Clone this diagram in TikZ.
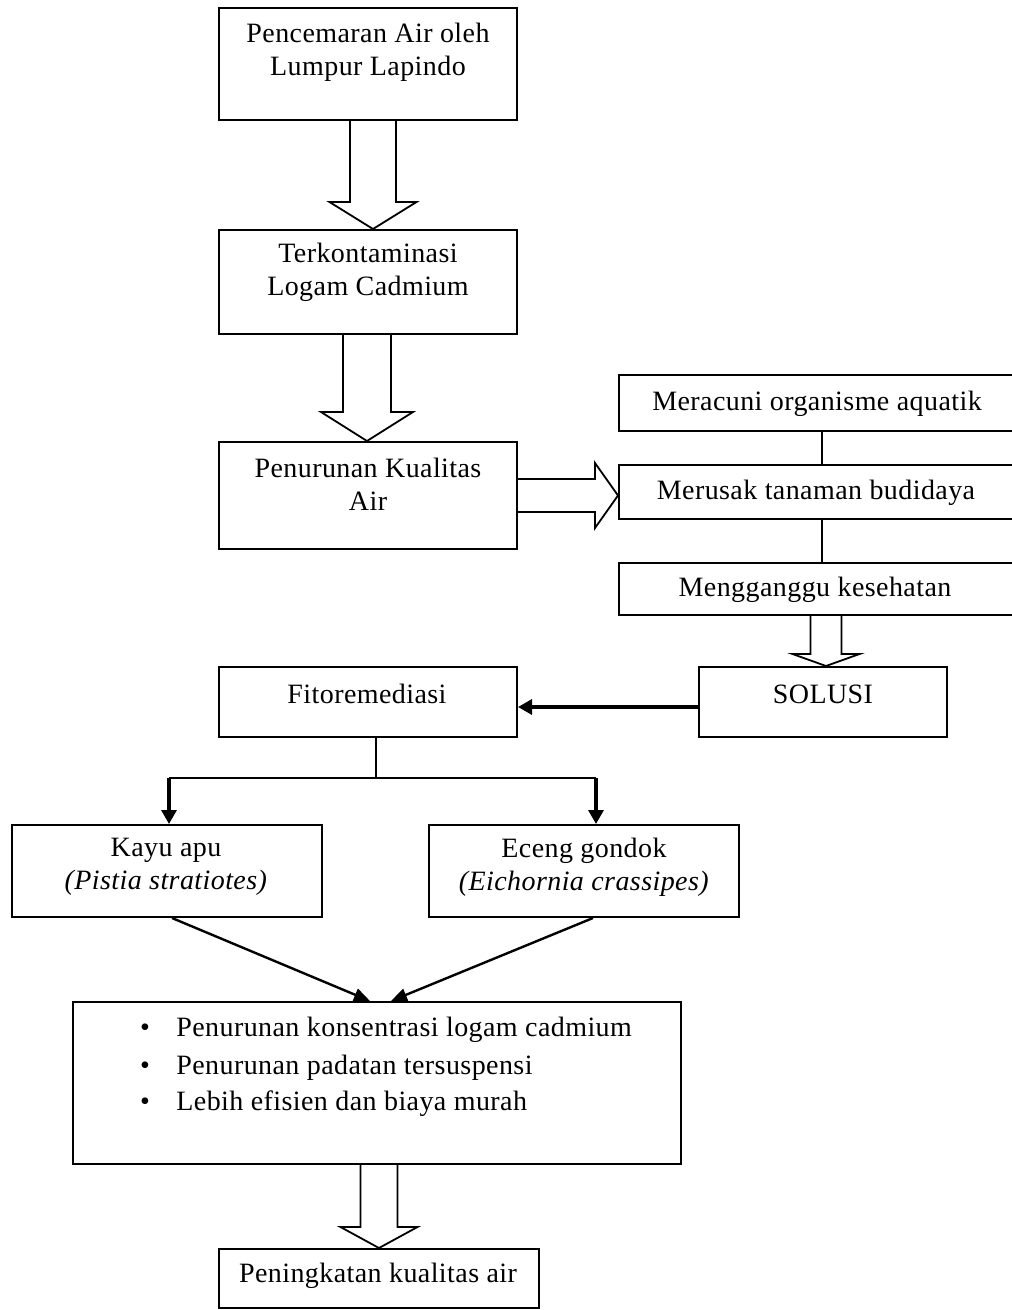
\documentclass[tikz,border=0pt]{standalone}
\usepackage{fontspec}
\setmainfont[LetterSpace=1.5]{Liberation Serif}
\usetikzlibrary{calc,arrows.meta,fit}
\newcommand{\hdown}[5]{\draw[hollow] ($(#1)+(-#3,0)$) -- ($(#2)+(-#3,-#5)$) -- ($(#2)+(-#4,-#5)$) -- (#2) -- ($(#2)+(#4,-#5)$) -- ($(#2)+(#3,-#5)$) -- ($(#1)+(#3,0)$);}
\newcommand{\hright}[5]{\draw[hollow] ($(#1)+(0,-#3)$) -- ($(#2)+(-#5,-#3)$) -- ($(#2)+(-#5,-#4)$) -- (#2) -- ($(#2)+(-#5,#4)$) -- ($(#2)+(-#5,#3)$) -- ($(#1)+(0,#3)$);}
\begin{document}
\begin{tikzpicture}[x=0.5pt,y=-0.5pt,
  box/.style={draw, line width=1pt, inner sep=0pt},
  txt/.style={inner sep=0pt, align=center, font=\fontsize{14}{16.5}\selectfont},
  btxt/.style={inner sep=0pt, anchor=west, font=\fontsize{14}{16.5}\selectfont},
  hollow/.style={line width=0.9pt, line join=miter},
  thinline/.style={line width=1pt},
  thickarrow/.style={line width=1.6pt, -{Triangle[length=7pt,width=7.5pt]}},
  diagarrow/.style={line width=1.2pt, -{Triangle[length=8pt,width=6.5pt]}}]
\useasboundingbox (0,0) rectangle (1011,1310);
% boxes
\node[box, fit={(219,8) (517,120)}] (A) {};
\node[box, fit={(219,230) (517,334)}] (B) {};
\node[box, fit={(219,442) (517,549)}] (C) {};
\node[box, fit={(619,375) (1016,431)}] (D1) {};
\node[box, fit={(619,465) (1016,519)}] (D2) {};
\node[box, fit={(619,563) (1016,615)}] (D3) {};
\node[box, fit={(699,667) (947,737)}] (SOL) {};
\node[box, fit={(219,667) (517,737)}] (FIT) {};
\node[box, fit={(12,825) (322,917)}] (KAY) {};
\node[box, fit={(429,825) (739,917)}] (ECE) {};
\node[box, fit={(73,1002) (681,1164)}] (BUL) {};
\node[box, fit={(219,1249) (539,1308)}] (FIN) {};
% texts
\node[txt] (tA) at (368,52) {Pencemaran Air oleh\\Lumpur Lapindo};
\node[txt] (tB) at (368,272) {Terkontaminasi\\Logam Cadmium};
\node[txt] (tC) at (368,484) {Penurunan Kualitas\\Air};
\node[txt] (tD1) at (817,404) {Meracuni organisme aquatik};
\node[txt] (tD2) at (816,493) {Merusak tanaman budidaya};
\node[txt] (tD3) at (815,590) {Mengganggu kesehatan};
\node[txt] (tSOL) at (823,694) {SOLUSI};
\node[txt] (tFIT) at (367,694) {Fitoremediasi};
\node[txt] (tKAY) at (166,867) {Kayu apu\\\textit{(Pistia stratiotes)}};
\node[txt] (tECE) at (584,867) {Eceng gondok\\\textit{(Eichornia crassipes)}};
\node[txt] (b1) at (145,1030) {•};
\node[txt] (b2) at (145,1068) {•};
\node[txt] (b3) at (145,1104) {•};
\node[btxt] (l1) at (176,1030) {Penurunan konsentrasi logam cadmium};
\node[btxt] (l2) at (176,1068) {Penurunan padatan tersuspensi};
\node[btxt] (l3) at (176,1104) {Lebih efisien dan biaya murah};
\node[txt] (tFIN) at (378,1276) {Peningkatan kualitas air};
% hollow arrows
\coordinate (a1t) at ($(A.south)+(5,0)$);
\coordinate (a1b) at (a1t |- B.north);
\hdown{a1t}{a1b}{23}{43.5}{27}
\coordinate (a2t) at ($(B.south)+(-1,0)$);
\coordinate (a2b) at (a2t |- C.north);
\hdown{a2t}{a2b}{24}{46}{29}
\coordinate (a3t) at ($(D3.south)+(8.5,0)$);
\coordinate (a3b) at (a3t |- SOL.north);
\hdown{a3t}{a3b}{15.5}{33.5}{12}
\coordinate (a4t) at ($(BUL.south)+(2,0)$);
\coordinate (a4b) at (a4t |- FIN.north);
\hdown{a4t}{a4b}{18.5}{38.5}{21}
\coordinate (arb) at (D2.west |- C.east);
\hright{C.east}{arb}{16.5}{32.5}{23}
% D links
\coordinate (dl) at ($(D1.south)+(4.5,0)$);
\draw[thinline] (dl) -- (dl |- D2.north);
\coordinate (dl2) at ($(D2.south)+(4.5,0)$);
\draw[thinline] (dl2) -- (dl2 |- D3.north);
% solusi to fito
\coordinate (ss) at ($(SOL.west)+(0,5)$);
\draw[thickarrow] (ss) -- (ss -| FIT.east);
% branch
\coordinate (fb) at ($(FIT.south)+(8,0)$);
\coordinate (fj) at ($(fb)+(0,41)$);
\coordinate (bl) at (169,778);
\coordinate (br) at (596,778);
\draw[thinline] (fb) -- (fj);
\draw[thinline] (bl) -- (br);
\draw[thickarrow] (bl) -- (bl |- KAY.north);
\draw[thickarrow] (br) -- (br |- ECE.north);
% diagonals
\draw[diagarrow] ($(KAY.south)+(5,0)$) -- ($(BUL.north)+(-7,0)$);
\draw[diagarrow] ($(ECE.south)+(9,0)$) -- ($(BUL.north)+(14,0)$);
\end{tikzpicture}
\end{document}
